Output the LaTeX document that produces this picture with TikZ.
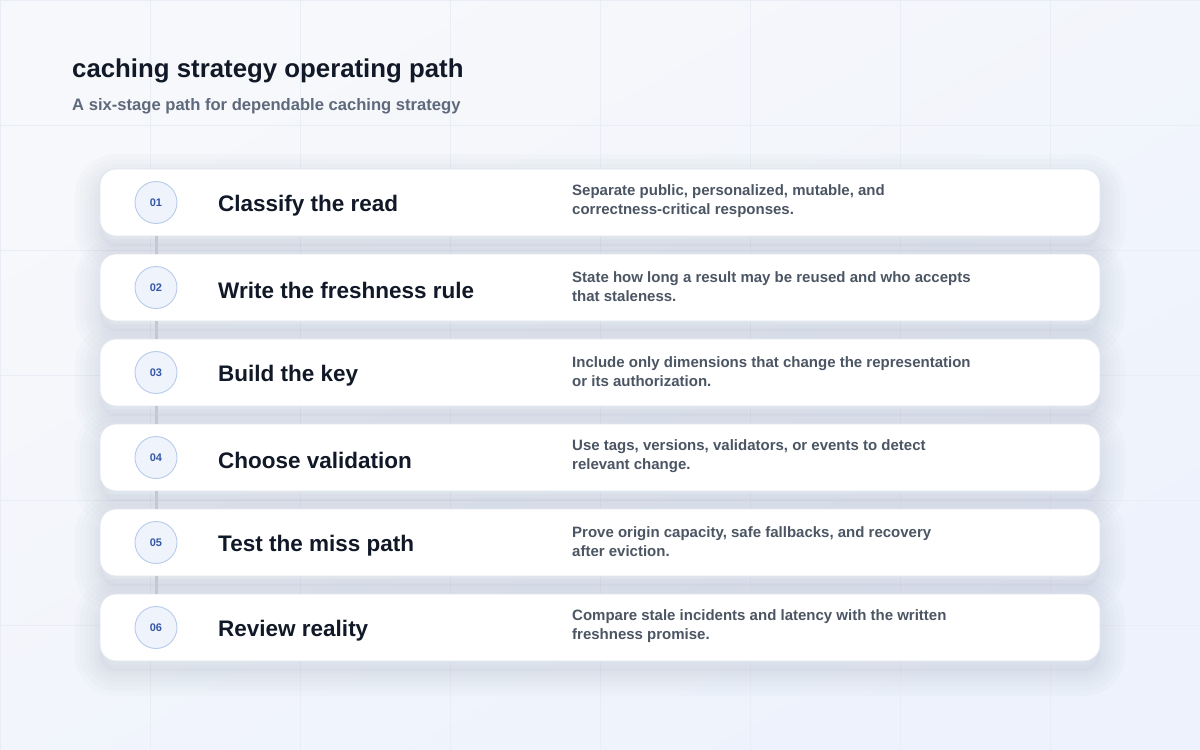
\documentclass[tikz,border=0pt]{standalone}
\usepackage{fontspec}
\setmainfont{Liberation Sans}

\definecolor{bgtop}{HTML}{F7F8FB}
\definecolor{bgbottom}{HTML}{EDF2FC}
\definecolor{gridln}{HTML}{E9EDF5}
\definecolor{shadowc}{HTML}{8C97B3}
\definecolor{cardedge}{HTML}{E1E5EC}
\definecolor{discfill}{HTML}{EEF3FC}
\definecolor{discedge}{HTML}{B7CBEA}
\definecolor{numblue}{HTML}{3557A6}
\definecolor{inkdark}{HTML}{111827}
\definecolor{inkgray}{HTML}{4B5563}
\definecolor{subgray}{HTML}{5E697B}
\definecolor{railgray}{HTML}{C4C8D0}

\tikzset{
  softshade/.style={preaction={draw=shadowc, line width=#1, opacity=0.03,
    transform canvas={yshift=-10pt}}},
  cardbox/.style={draw=cardedge, line width=0.8pt, fill=white, rounded corners=16pt,
    minimum width=1000pt, minimum height=67pt, inner sep=0pt,
    softshade=50pt, softshade=40pt, softshade=30pt, softshade=21pt, softshade=13pt, softshade=6pt,
    preaction={fill=shadowc, opacity=0.06, transform canvas={yshift=-10pt}}},
  numdisc/.style={circle, draw=discedge, line width=0.9pt, fill=discfill, minimum size=42pt,
    inner sep=0pt, text=numblue, font=\fontsize{11}{13}\selectfont\bfseries},
  headtext/.style={anchor=west, inner sep=0pt, text=inkdark, font=\fontsize{22.5}{26}\selectfont\bfseries},
  desctext/.style={anchor=west, inner sep=0pt, align=left, text=inkgray,
    font=\fontsize{15}{19}\selectfont\bfseries},
  rail/.style={draw=railgray, line width=3pt}
}

\begin{document}
\begin{tikzpicture}[x=1pt,y=-1pt]
\useasboundingbox (0,0) rectangle (1200,750);
% page and faint grid
\shade[top color=bgtop, bottom color=bgbottom, shading angle=30] (0,0) rectangle (1200,750);
\draw[gridln, line width=0.8pt, xstep=150pt, ystep=125pt] (0,0) grid (1200,750);

% heading
\node[anchor=base west, inner sep=0pt, text=inkdark, font=\fontsize{25.8}{30}\selectfont\bfseries] (title) at (72,77) {caching strategy operating path};
\node[anchor=base west, inner sep=0pt, text=subgray, font=\fontsize{16.6}{19}\selectfont\bfseries] (subtitle) at (72,110) {A six-stage path for dependable caching strategy};

% cards
\node[cardbox] (card1) at (600,202.5) {};
\node[cardbox] (card2) at (600,287.5) {};
\node[cardbox] (card3) at (600,372.5) {};
\node[cardbox] (card4) at (600,457.5) {};
\node[cardbox] (card5) at (600,542.5) {};
\node[cardbox] (card6) at (600,627.5) {};

% step numbers
\node[numdisc] (step1) at (156,202.5) {01};
\node[numdisc] (step2) at (156,287.5) {02};
\node[numdisc] (step3) at (156,372.5) {03};
\node[numdisc] (step4) at (156,457.5) {04};
\node[numdisc] (step5) at (156,542.5) {05};
\node[numdisc] (step6) at (156,627.5) {06};

% rail between the cards
\draw[rail] (card1.south -| step1) -- (card2.north -| step2);
\draw[rail] (card2.south -| step2) -- (card3.north -| step3);
\draw[rail] (card3.south -| step3) -- (card4.north -| step4);
\draw[rail] (card4.south -| step4) -- (card5.north -| step5);
\draw[rail] (card5.south -| step5) -- (card6.north -| step6);

% titles
\node[headtext] (head1) at (218,205.5) {Classify the read};
\node[headtext] (head2) at (218,290.5) {Write the freshness rule};
\node[headtext] (head3) at (218,375.5) {Build the key};
\node[headtext] (head4) at (218,460.5) {Choose validation};
\node[headtext] (head5) at (218,545.5) {Test the miss path};
\node[headtext] (head6) at (218,630.5) {Review reality};

% descriptions
\node[desctext] (desc1) at (572,201.5) {Separate public, personalized, mutable, and\\correctness-critical responses.};
\node[desctext] (desc2) at (572,286.5) {State how long a result may be reused and who accepts\\that staleness.};
\node[desctext] (desc3) at (572,371.5) {Include only dimensions that change the representation\\or its authorization.};
\node[desctext] (desc4) at (572,456.5) {Use tags, versions, validators, or events to detect\\relevant change.};
\node[desctext] (desc5) at (572,541.5) {Prove origin capacity, safe fallbacks, and recovery\\after eviction.};
\node[desctext] (desc6) at (572,626.5) {Compare stale incidents and latency with the written\\freshness promise.};
\end{tikzpicture}
\end{document}
